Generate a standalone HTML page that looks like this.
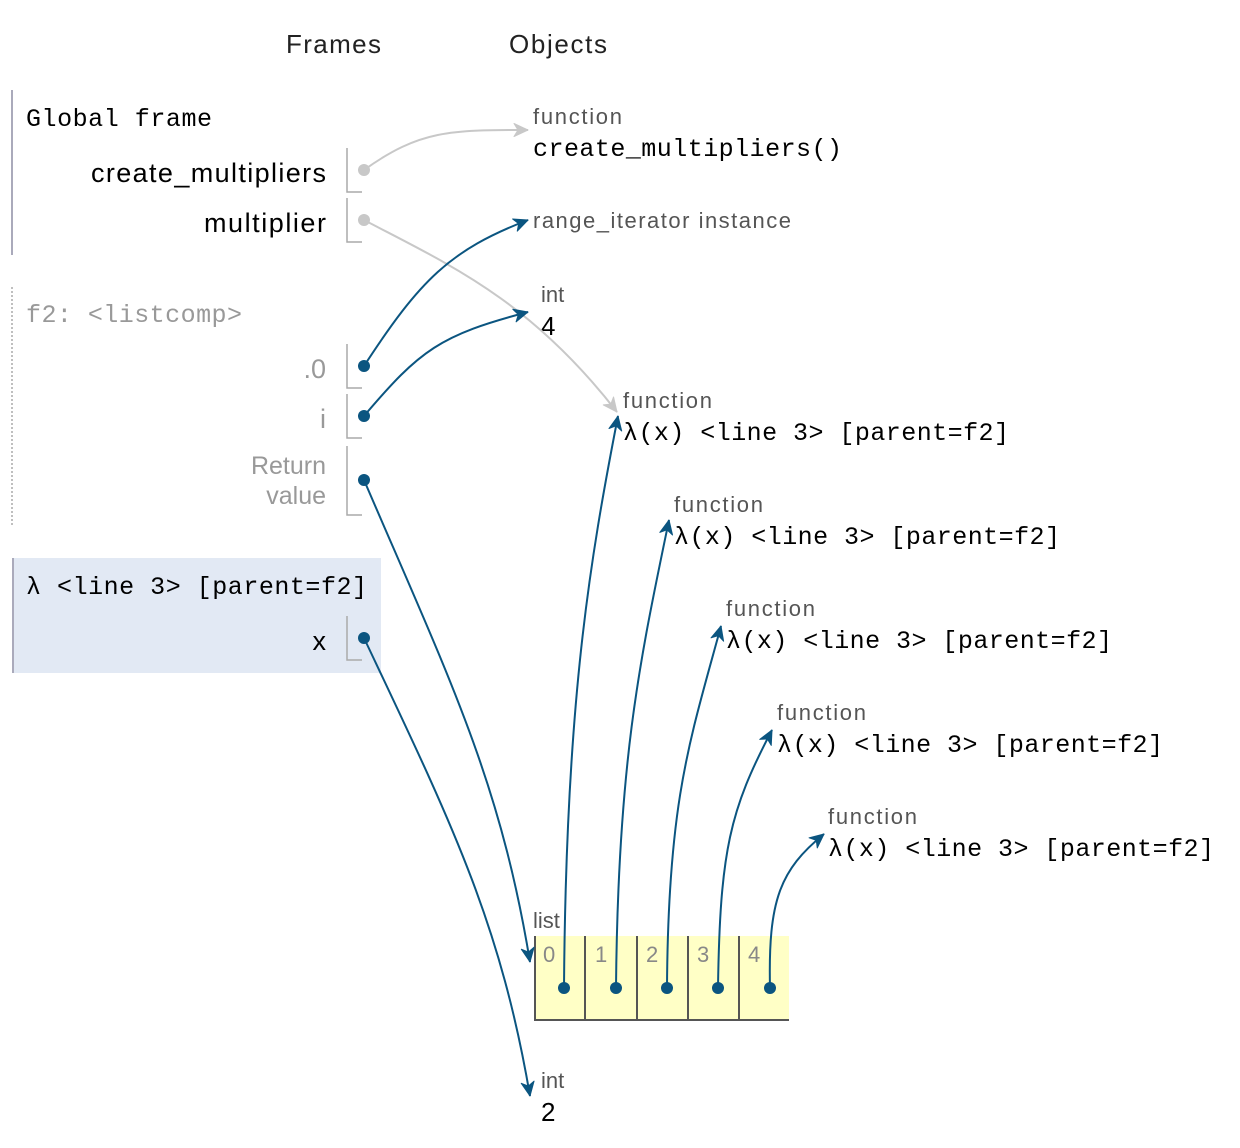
<!DOCTYPE html>
<html><head><meta charset="utf-8"><style>
html,body{margin:0;padding:0;background:#fff;}
svg{display:block;}
.s{font-family:"Liberation Sans",sans-serif;}
.m{font-family:"Liberation Mono",monospace;}
</style></head><body>
<svg width="1240" height="1148" viewBox="0 0 1240 1148" xmlns="http://www.w3.org/2000/svg">
<defs>
<marker id="ab" viewBox="0 0 16 16" refX="15" refY="8" markerWidth="16" markerHeight="16" markerUnits="userSpaceOnUse" orient="auto">
<path d="M1,1.5 L15,8 L1,14.5 L5,8 Z" fill="#0b5580" stroke="#0b5580" stroke-width="1" stroke-linejoin="round"/></marker>
<marker id="ag" viewBox="0 0 16 16" refX="15" refY="8" markerWidth="16" markerHeight="16" markerUnits="userSpaceOnUse" orient="auto">
<path d="M1,1.5 L15,8 L1,14.5 L5,8 Z" fill="#c8c8c8" stroke="#c8c8c8" stroke-width="1" stroke-linejoin="round"/></marker>
</defs>
<text class="s" x="286" y="53" font-size="26" fill="#222" textLength="95">Frames</text>
<text class="s" x="509" y="53" font-size="26" fill="#222" textLength="98">Objects</text>

<line x1="12" y1="90" x2="12" y2="255" stroke="#aab" stroke-width="2"/>
<text class="m" x="26" y="126" font-size="25" fill="#000" textLength="186">Global frame</text>
<text class="s" x="326" y="182" font-size="27" fill="#000" text-anchor="end" textLength="235">create_multipliers</text>
<text class="s" x="326" y="232" font-size="27" fill="#000" text-anchor="end" textLength="122">multiplier</text>
<path d="M347,148 V192 H362 M347,198 V242 H362" fill="none" stroke="#aaa" stroke-width="1.5"/>

<line x1="12" y1="287" x2="12" y2="527" stroke="#aaa" stroke-width="1.5" stroke-dasharray="2,2"/>
<text class="m" x="26" y="322" font-size="25" fill="#999" textLength="216">f2: &lt;listcomp&gt;</text>
<text class="s" x="326" y="378" font-size="27" fill="#999" text-anchor="end">.0</text>
<text class="s" x="326" y="428" font-size="27" fill="#999" text-anchor="end">i</text>
<text class="s" x="326" y="474" font-size="25" fill="#999" text-anchor="end">Return</text>
<text class="s" x="326" y="504" font-size="25" fill="#999" text-anchor="end">value</text>
<path d="M347,344 V388 H362 M347,394 V438 H362 M347,446 V515 H362" fill="none" stroke="#aaa" stroke-width="1.5"/>

<rect x="12" y="558" width="369" height="115" fill="#e2e9f4"/>
<line x1="13" y1="558" x2="13" y2="673" stroke="#aab" stroke-width="2"/>
<text class="m" x="26" y="594" font-size="25" fill="#000" textLength="341">λ &lt;line 3&gt; [parent=f2]</text>
<text class="s" x="326" y="650" font-size="27" fill="#000" text-anchor="end">x</text>
<path d="M347,616 V660 H362" fill="none" stroke="#aaa" stroke-width="1.5"/>

<text class="s" x="533" y="124" font-size="22" fill="#555" textLength="89">function</text>
<text class="m" x="533" y="156" font-size="25" fill="#000" textLength="309">create_multipliers()</text>
<text class="s" x="533" y="228" font-size="22" fill="#555" textLength="258">range_iterator instance</text>
<text class="s" x="541" y="302" font-size="22" fill="#555">int</text>
<text class="s" x="541" y="335" font-size="26" fill="#000">4</text>

<g class="s" font-size="22" fill="#555">
<text x="623" y="408" textLength="89">function</text>
<text x="674" y="512" textLength="89">function</text>
<text x="726" y="616" textLength="89">function</text>
<text x="777" y="720" textLength="89">function</text>
<text x="828" y="824" textLength="89">function</text>
</g>
<g class="m" font-size="25" fill="#000">
<text x="623" y="440" textLength="386">λ(x) &lt;line 3&gt; [parent=f2]</text>
<text x="674" y="544" textLength="386">λ(x) &lt;line 3&gt; [parent=f2]</text>
<text x="726" y="648" textLength="386">λ(x) &lt;line 3&gt; [parent=f2]</text>
<text x="777" y="752" textLength="386">λ(x) &lt;line 3&gt; [parent=f2]</text>
<text x="828" y="856" textLength="386">λ(x) &lt;line 3&gt; [parent=f2]</text>
</g>

<text class="s" x="533" y="928" font-size="22" fill="#555">list</text>
<rect x="534" y="936" width="255" height="84" fill="#ffffc6"/>
<path d="M535,936 V1020 M585,936 V1020 M637,936 V1020 M688,936 V1020 M739,936 V1020 M534,1020 H789" stroke="#555" stroke-width="2" fill="none"/>
<g class="s" font-size="22" fill="#888">
<text x="543" y="962">0</text><text x="595" y="962">1</text><text x="646" y="962">2</text><text x="697" y="962">3</text><text x="748" y="962">4</text>
</g>

<text class="s" x="541" y="1088" font-size="22" fill="#555">int</text>
<text class="s" x="541" y="1121" font-size="26" fill="#000">2</text>

<g fill="none" stroke-width="2">
<path d="M364,170 C420,130 450,130 528,130" stroke="#c8c8c8" marker-end="url(#ag)"/>
<path d="M364,220 C450,265 530,300 617,412" stroke="#c8c8c8" marker-end="url(#ag)"/>
<path d="M364,366 C420,280 450,250 528,220" stroke="#0b5580" marker-end="url(#ab)"/>
<path d="M364,416 C420,350 440,335 528,312" stroke="#0b5580" marker-end="url(#ab)"/>
<path d="M364,480 C450,680 500,780 530,962" stroke="#0b5580" marker-end="url(#ab)"/>
<path d="M364,638 C450,820 500,920 530,1096" stroke="#0b5580" marker-end="url(#ab)"/>
<path d="M564,988 C566,700 590,560 618,416" stroke="#0b5580" marker-end="url(#ab)"/>
<path d="M616,988 C618,760 640,660 669,520" stroke="#0b5580" marker-end="url(#ab)"/>
<path d="M667,988 C668,800 690,740 721,626" stroke="#0b5580" marker-end="url(#ab)"/>
<path d="M718,988 C720,850 730,810 772,730" stroke="#0b5580" marker-end="url(#ab)"/>
<path d="M770,988 C768,900 780,870 824,834" stroke="#0b5580" marker-end="url(#ab)"/>
</g>
<g fill="#0b5580">
<circle cx="364" cy="366" r="6"/><circle cx="364" cy="416" r="6"/><circle cx="364" cy="480" r="6"/><circle cx="364" cy="638" r="6"/>
<circle cx="564" cy="988" r="6"/><circle cx="616" cy="988" r="6"/><circle cx="667" cy="988" r="6"/><circle cx="718" cy="988" r="6"/><circle cx="770" cy="988" r="6"/>
</g>
<circle cx="364" cy="170" r="6" fill="#c8c8c8"/><circle cx="364" cy="220" r="6" fill="#c8c8c8"/>
</svg>
</body></html>
